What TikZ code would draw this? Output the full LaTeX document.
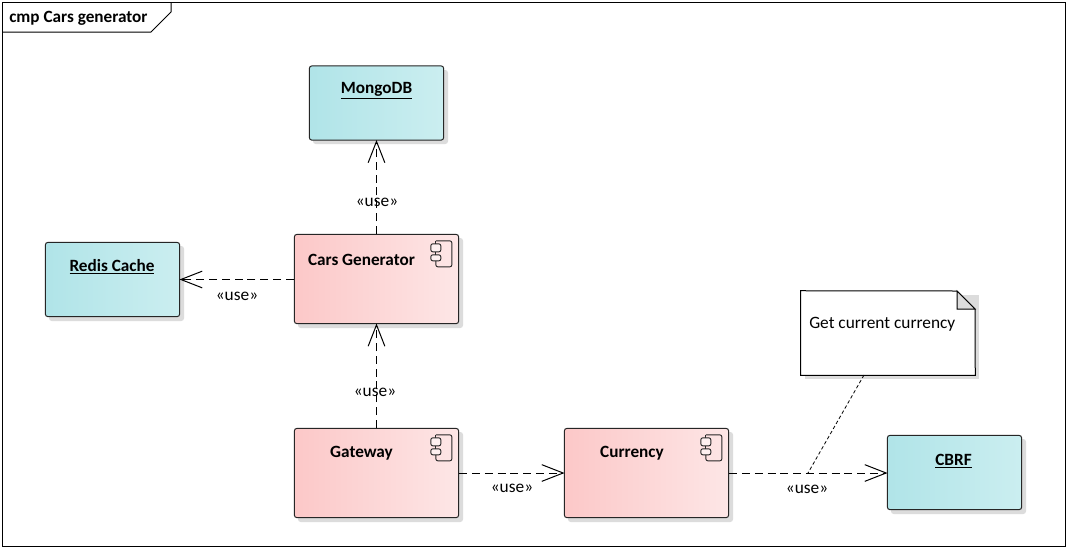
\documentclass[tikz,border=0pt]{standalone}
\usepackage{fontspec}
\setmainfont{Carlito}
\usetikzlibrary{arrows.meta}
\definecolor{tealL}{HTML}{B0E4E8}
\definecolor{tealR}{HTML}{CBEEF0}
\definecolor{pinkL}{HTML}{FCC8C8}
\definecolor{pinkR}{HTML}{FDE6E6}
\definecolor{shadowc}{HTML}{DCDCDC}
\definecolor{foldc}{HTML}{DCDCDC}
\tikzset{
  x=0.75pt,y=-0.75pt,
  boxbase/.style={draw=black!85,line width=0.75pt,rounded corners=2pt,inner sep=0pt,shading angle=90},
  teal box/.style={boxbase,left color=tealL,right color=tealR,minimum width=100.75pt,minimum height=55.75pt},
  pink box/.style={boxbase,left color=pinkL,right color=pinkR,minimum width=123.25pt,minimum height=67pt},
  shadowbox/.style={fill=shadowc,draw=none,rounded corners=2pt},
  title/.style={font=\fontsize{12.9}{15}\selectfont\bfseries,inner sep=0pt,anchor=center},
  usetext/.style={font=\fontsize{13}{15}\selectfont,inner sep=0pt,anchor=center},
  dep/.style={line width=0.75pt,dash pattern=on 6pt off 3.6pt,-{Straight Barb[length=16pt,width=12.5pt,line width=0.75pt]},shorten >=-0.5pt},
  noteline/.style={line width=0.6pt,dash pattern=on 2.6pt off 1.8pt},
  frameline/.style={draw=black,line width=0.75pt},
  notespace/.style={inner sep=0pt,minimum width=130.5pt,minimum height=63pt}
}
\newcommand{\boxshadow}[4]{\fill[shadowbox] (#1+4,#2+4) rectangle (#3+4,#4+4);}
\newcommand{\compicon}[1]{%
  \begin{scope}[shift={(#1.north west)},line width=0.7pt,draw=black!85]
    \draw[rounded corners=1.5pt] (142,7) -- (158,7) -- (158,33) -- (142,33) -- (142,27);
    \draw (142,21) -- (142,18);
    \draw (142,10) -- (142,7);
    \draw[rounded corners=1.5pt,fill=pinkR!60!white] (137,10) rectangle (147,18);
    \draw[rounded corners=1.5pt,fill=pinkR!60!white] (137,21) rectangle (147,27);
  \end{scope}}
\begin{document}
\begin{tikzpicture}
\useasboundingbox (0,0) rectangle (1067,547);
\fill[white] (0,0) rectangle (1067,547);
% frame
\draw[frameline] (2,2) rectangle (1065,546);
\draw[frameline] (2,32) -- (151,32) -- (171,12) -- (171,2);
\node[title,anchor=west] (frametitle) at (9,18.5) {cmp Cars generator};

% shadows
\boxshadow{309}{66}{444}{140}
\boxshadow{45}{242}{180}{317}
\boxshadow{294}{234}{459}{324}
\boxshadow{294}{428}{459}{518}
\boxshadow{564}{428}{729}{518}
\boxshadow{887}{435}{1022}{510}
\fill[shadowc] (805,295) rectangle (979,379);

% boxes
\node[teal box] (mongo) at (376.5,103) {};
\node[teal box] (redis) at (112.5,279.5) {};
\node[teal box] (cbrf) at (954.5,472.5) {};
\node[pink box] (cars) at (376.5,279) {};
\node[pink box] (gateway) at (376.5,473) {};
\node[pink box] (currency) at (646.5,473) {};

\compicon{cars}
\compicon{gateway}
\compicon{currency}

% box texts
\node[title] (mongotext) at (376.5,90.5) {\underline{MongoDB}};
\node[title] (redistext) at (112,267) {\underline{Redis Cache}};
\node[title] (cbrftext) at (953.5,461.5) {\underline{CBRF}};
\node[title] (carstext) at (361.5,259.5) {Cars Generator};
\node[title] (gatewaytext) at (361.5,453.5) {Gateway};
\node[title] (currencytext) at (632,453.5) {Currency};

% note
\node[notespace] (note) at (888,333) {};
\draw[line width=0.75pt,fill=white] (note.north west) -- (957,291) -- (975,309) -- (note.south east) -- (note.south west) -- cycle;
\draw[line width=0.75pt,fill=foldc] (957,291) -- (975,309) -- (957,309) -- cycle;
\node[usetext,anchor=west] (notetext) at (809,324) {Get current currency};

% connectors
\draw[dep] (cars.north) -- (mongo.south);
\draw[dep] (cars.west |- redis.east) -- (redis.east);
\draw[dep] (gateway.north) -- (cars.south);
\draw[dep] (gateway.east) -- (currency.west);
\draw[dep] (currency.east) -- (cbrf.west |- currency.east);
\coordinate (notefoot) at (808,473);
\draw[noteline] (864,375) -- (notefoot);

% labels
\node[usetext] (use1) at (377,202.5) {«use»};
\node[usetext] (use2) at (237,296.5) {«use»};
\node[usetext] (use3) at (375,392.5) {«use»};
\node[usetext] (use4) at (512,488.5) {«use»};
\node[usetext] (use5) at (807,489.5) {«use»};
\end{tikzpicture}
\end{document}
